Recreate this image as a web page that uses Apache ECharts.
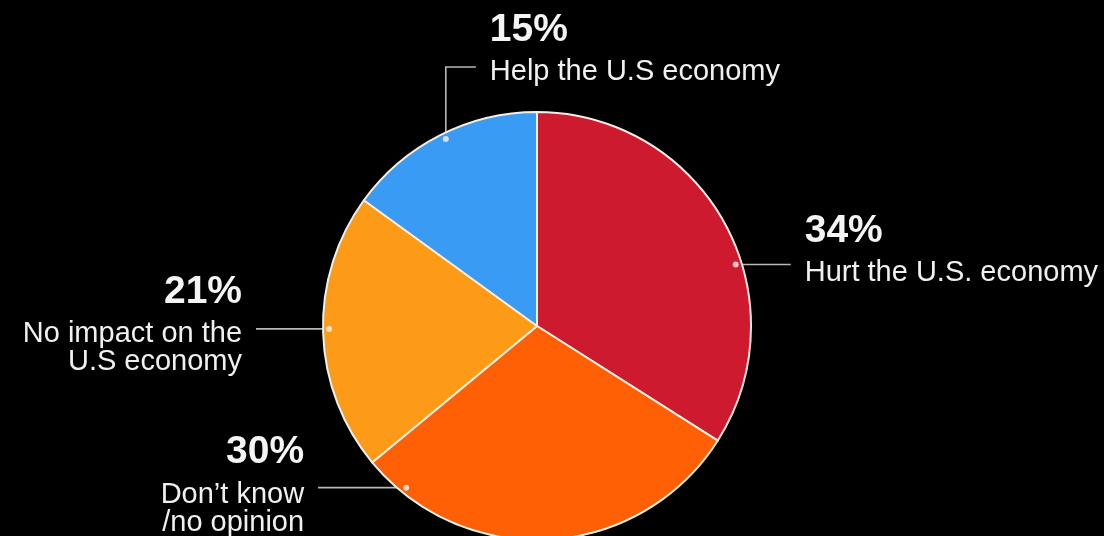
<!DOCTYPE html>
<html>
<head>
<meta charset="utf-8">
<title>Impact on the U.S. economy</title>
<script src="https://cdn.jsdelivr.net/npm/echarts@6/dist/echarts.min.js"></script>
<style>
  html, body { margin: 0; padding: 0; background: #000; }
  #chart { width: 1104px; height: 536px; }
</style>
</head>
<body>
<div id="chart"></div>
<script>
// Survey answers, clockwise from 12 o'clock
const categories = ['Hurt the U.S. economy', 'Don\u2019t know\n/no opinion', 'No impact on the\nU.S economy', 'Help the U.S economy'];
const shares = [34, 30, 21, 15];
const sliceColors = ['#cd1a2f', '#ff5f05', '#fd9b18', '#3a9bf5'];

// Leader placement: angle of the anchor dot (degrees clockwise from top),
// horizontal run, vertical rise, which side the text sits on and how far
// the text block starts above the leader's horizontal stroke
const leaderAngle = [72.8, 219, 269.2, 334];
const leaderRun = [55, 88, 73, 30];
const leaderRise = [0, 0, 0, 72];
const leaderSide = [1, -1, -1, 1];
const textRaise = [61, 63, 65, 65];

const CX = 537, CY = 326, R = 214;
const DOT_R = 208;
const TEXT_GAP = 14;
const FONT = '"Liberation Sans", Arial, Helvetica, sans-serif';

function anchorPoint(i) {
  const a = leaderAngle[i] * Math.PI / 180;
  return [CX + DOT_R * Math.sin(a), CY - DOT_R * Math.cos(a)];
}

const chart = echarts.init(document.getElementById('chart'), null, { renderer: 'canvas' });

chart.setOption({
  backgroundColor: '#000',
  animation: false,
  polar: { center: [CX, CY], radius: R },
  angleAxis: { type: 'value', min: 0, max: 360, startAngle: 90, clockwise: true, show: false },
  radiusAxis: { type: 'value', min: 0, max: R, show: false },
  series: [
    {
      type: 'pie',
      center: [CX, CY],
      radius: R,
      startAngle: 90,
      clockwise: true,
      data: categories.map((name, i) => ({ name, value: shares[i], itemStyle: { color: sliceColors[i] } })),
      itemStyle: { borderColor: '#f4efe6', borderWidth: 2 },
      emphasis: { disabled: true },
      label: {
        show: true,
        position: 'outside',
        color: '#f4f4f4',
        fontFamily: FONT,
        formatter: p => '{p|' + p.value + '%}\n' + p.name.split('\n').map(s => '{t|' + s + '}').join('\n'),
        rich: {
          p: { fontSize: 39, fontWeight: 'bold', lineHeight: 56, color: '#f4f4f4', fontFamily: FONT },
          t: { fontSize: 29, lineHeight: 28, color: '#f0f0f0', fontFamily: FONT }
        }
      },
      labelLine: { show: true, lineStyle: { color: '#b8b8b8', width: 1.6 } },
      labelLayout: params => {
        const i = params.dataIndex;
        const [dx, dy] = anchorPoint(i);
        const ey = dy - leaderRise[i];
        const ex = dx + leaderSide[i] * leaderRun[i];
        return {
          x: ex + leaderSide[i] * TEXT_GAP,
          y: ey - textRaise[i],
          align: leaderSide[i] > 0 ? 'left' : 'right',
          verticalAlign: 'top',
          labelLinePoints: [[dx, dy], [dx, ey], [ex, ey]]
        };
      }
    },
    {
      type: 'scatter',
      coordinateSystem: 'polar',
      z: 5,
      symbol: 'circle',
      symbolSize: 6,
      silent: true,
      itemStyle: { color: '#f6f1ea' },
      data: leaderAngle.map(a => [DOT_R, a])
    }
  ]
});
</script>
</body>
</html>
